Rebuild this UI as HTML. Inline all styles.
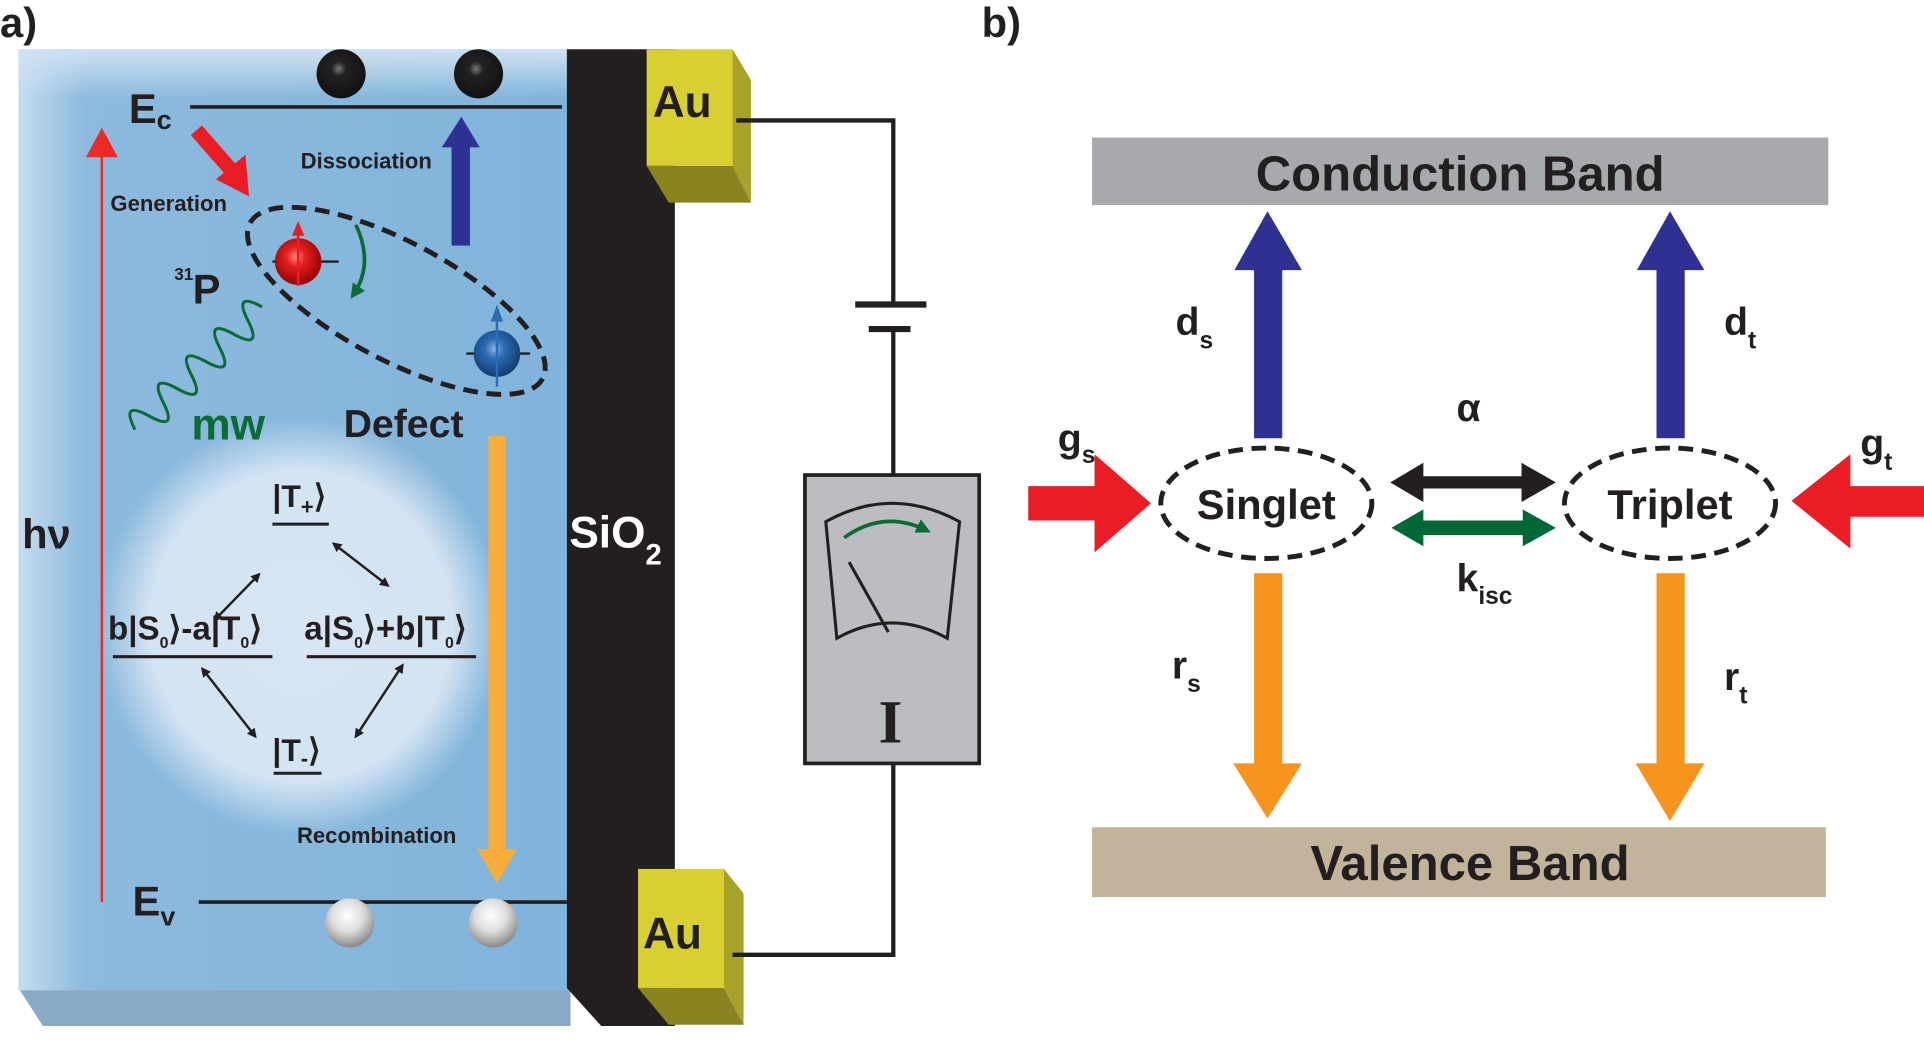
<!DOCTYPE html>
<html><head><meta charset="utf-8">
<style>
html,body{margin:0;padding:0;background:#fff;}
svg{display:block;}
text{font-family:"Liberation Sans",sans-serif;font-weight:bold;fill:#231f20;}
</style></head>
<body>
<svg width="1924" height="1063" viewBox="0 0 1568 866" xmlns="http://www.w3.org/2000/svg">
<defs>
<linearGradient id="slab" x1="0" y1="0" x2="1" y2="0">
<stop offset="0" stop-color="#c6dcef"/><stop offset="0.12" stop-color="#8dbade"/><stop offset="1" stop-color="#80b4da"/>
</linearGradient>
<linearGradient id="slabtop" x1="0" y1="0" x2="0" y2="1">
<stop offset="0" stop-color="#cfe2f2"/><stop offset="1" stop-color="#cfe2f2" stop-opacity="0"/>
</linearGradient>
<radialGradient id="glow" cx="0.5" cy="0.5" r="0.5">
<stop offset="0" stop-color="#d7e6f3"/><stop offset="0.75" stop-color="#d2e3f2"/><stop offset="1" stop-color="#d2e3f2" stop-opacity="0"/>
</radialGradient>
<radialGradient id="blk" cx="0.45" cy="0.4" r="0.6"><stop offset="0" stop-color="#777"/><stop offset="0.25" stop-color="#222"/><stop offset="1" stop-color="#111"/></radialGradient>
<radialGradient id="wht" cx="0.45" cy="0.35" r="0.65"><stop offset="0" stop-color="#fff"/><stop offset="0.5" stop-color="#ddd"/><stop offset="1" stop-color="#888"/></radialGradient>
<radialGradient id="red" cx="0.45" cy="0.4" r="0.6"><stop offset="0" stop-color="#ff8080"/><stop offset="0.35" stop-color="#e02020"/><stop offset="1" stop-color="#900"/></radialGradient>
<radialGradient id="blu" cx="0.45" cy="0.4" r="0.6"><stop offset="0" stop-color="#8ab4e6"/><stop offset="0.35" stop-color="#2a6db4"/><stop offset="1" stop-color="#123a70"/></radialGradient>
<marker id="ah" markerWidth="8" markerHeight="8" refX="6" refY="4" orient="auto-start-reverse" markerUnits="userSpaceOnUse"><path d="M0,0 L8,4 L0,8 Z" fill="#231f20"/></marker>
<marker id="gh" markerWidth="12" markerHeight="12" refX="8" refY="6" orient="auto" markerUnits="userSpaceOnUse"><path d="M0,0 L12,6 L0,12 Z" fill="#0a6b34"/></marker>
</defs>

<text x="0" y="30" font-size="34">a)</text>
<text x="800" y="30" font-size="34">b)</text>

<polygon points="15,805 465,805 465,836 35,836" fill="#8aa9c4"/>
<rect x="15" y="40" width="450" height="767" fill="url(#slab)"/>
<rect x="15" y="40" width="450" height="40" fill="url(#slabtop)"/>
<ellipse cx="245" cy="510" rx="165" ry="170" fill="url(#glow)"/>
<polygon points="462,40 550,40 550,836 490,836 462,805" fill="#231f20"/>
<text x="464" y="446" font-size="36" style="fill:#fff">SiO<tspan font-size="24" dy="14" style="fill:#fff">2</tspan></text>

<polygon points="597,40 612,65 612,165 597,135" fill="#a9a22a"/>
<polygon points="527,135 597,135 612,165 545,165" fill="#8a8420"/>
<rect x="527" y="40" width="70" height="95" fill="#d8cf30"/>
<text x="532" y="95" font-size="36">Au</text>
<polygon points="590,708 606,728 606,835 590,805" fill="#a9a22a"/>
<polygon points="520,805 590,805 606,835 545,835" fill="#8a8420"/>
<rect x="520" y="708" width="70" height="97" fill="#d8cf30"/>
<text x="524" y="773" font-size="36">Au</text>

<polyline points="600,98 728,98 728,248" fill="none" stroke="#231f20" stroke-width="3.5"/>
<line x1="697" y1="248" x2="755" y2="248" stroke="#231f20" stroke-width="5"/>
<line x1="708" y1="268" x2="742" y2="268" stroke="#231f20" stroke-width="5"/>
<line x1="728" y1="268" x2="728" y2="387" stroke="#231f20" stroke-width="3.5"/>
<polyline points="728,622 728,778 597,778" fill="none" stroke="#231f20" stroke-width="3.5"/>
<rect x="656" y="387" width="142" height="235" fill="#bcbdc0" stroke="#231f20" stroke-width="3"/>
<path d="M673,425 Q727,395 782,425 L772,520 Q727,495 682,520 Z" fill="none" stroke="#231f20" stroke-width="2.5"/>
<path d="M688,438 Q720,415 755,432" fill="none" stroke="#0a6b34" stroke-width="3" marker-end="url(#gh)"/>
<line x1="692" y1="458" x2="724" y2="515" stroke="#231f20" stroke-width="2.5"/>
<text x="716" y="605" font-size="50" style="font-family:'Liberation Serif',serif">I</text>

<line x1="155" y1="87" x2="458" y2="87" stroke="#231f20" stroke-width="3"/>
<line x1="162" y1="735" x2="462" y2="735" stroke="#231f20" stroke-width="3"/>
<text x="105" y="100" font-size="34">E<tspan font-size="22" dy="5">c</tspan></text>
<text x="108" y="746" font-size="34">E<tspan font-size="22" dy="8">v</tspan></text>
<circle cx="278" cy="60" r="20" fill="url(#blk)"/>
<circle cx="390" cy="60" r="20" fill="url(#blk)"/>
<circle cx="285" cy="752" r="20" fill="url(#wht)"/>
<circle cx="402" cy="752" r="20" fill="url(#wht)"/>

<line x1="83" y1="735" x2="83" y2="125" stroke="#ee2a24" stroke-width="2"/>
<polygon points="70,128 96,128 83,104" fill="#ee2a24"/>
<text x="18" y="447" font-size="34">hν</text>

<line x1="160" y1="106" x2="188" y2="138" stroke="#ec1c24" stroke-width="12"/>
<polygon points="176,146 200,126 203,160" fill="#ec1c24"/>
<text x="90" y="172" font-size="18">Generation</text>
<rect x="368" y="118" width="15" height="82" fill="#2e3192"/>
<polygon points="360,120 391,120 376,95" fill="#2e3192"/>
<text x="245" y="137" font-size="18">Dissociation</text>

<ellipse cx="323" cy="245" rx="135" ry="48" transform="rotate(28 323 245)" fill="none" stroke="#231f20" stroke-width="4" stroke-dasharray="12,7"/>
<line x1="222" y1="213" x2="276" y2="213" stroke="#231f20" stroke-width="2"/>
<circle cx="243" cy="213" r="19" fill="url(#red)"/>
<line x1="243" y1="233" x2="243" y2="190" stroke="#ec1c24" stroke-width="2"/>
<polygon points="238,192 248,192 243,180" fill="#ec1c24"/>
<line x1="380" y1="288" x2="432" y2="288" stroke="#231f20" stroke-width="2"/>
<circle cx="405" cy="288" r="19" fill="url(#blu)"/>
<line x1="405" y1="315" x2="405" y2="260" stroke="#2a6db4" stroke-width="2"/>
<polygon points="400,262 410,262 405,248" fill="#2a6db4"/>
<path d="M290,183 Q305,215 288,240" fill="none" stroke="#0a6b34" stroke-width="3" marker-end="url(#gh)"/>
<text x="157" y="247" font-size="34">P</text>
<text x="142" y="228" font-size="14">31</text>
<g transform="translate(110,350) rotate(-44)">
<path d="M0,0 q8,-26 16,0 t16,0 t16,0 t16,0 t16,0 t16,0 t16,0 t16,0 t16,0" fill="none" stroke="#0a6b34" stroke-width="2.5"/>
</g>
<text x="156" y="358" font-size="36" style="fill:#0a6b34">mw</text>
<text x="280" y="356" font-size="32">Defect</text>

<rect x="398" y="355" width="14" height="340" fill="#f9ad3b"/>
<polygon points="389,692 421,692 405,720" fill="#f9ad3b"/>
<text x="242" y="687" font-size="18">Recombination</text>

<text x="222" y="413" font-size="26">|T<tspan font-size="18" dy="6">+</tspan><tspan dy="-6">⟩</tspan></text>
<line x1="222" y1="427" x2="268" y2="427" stroke="#231f20" stroke-width="2.5"/>
<text x="88" y="521" font-size="27">b|S<tspan font-size="13" dy="7">0</tspan><tspan dy="-7">⟩-a|T</tspan><tspan font-size="13" dy="7">0</tspan><tspan dy="-7">⟩</tspan></text>
<line x1="92" y1="535" x2="222" y2="535" stroke="#231f20" stroke-width="2.5"/>
<text x="248" y="521" font-size="27">a|S<tspan font-size="13" dy="7">0</tspan><tspan dy="-7">⟩+b|T</tspan><tspan font-size="13" dy="7">0</tspan><tspan dy="-7">⟩</tspan></text>
<line x1="250" y1="535" x2="388" y2="535" stroke="#231f20" stroke-width="2.5"/>
<text x="222" y="620" font-size="26">|T<tspan font-size="18" dy="4">-</tspan><tspan dy="-4">⟩</tspan></text>
<line x1="223" y1="630" x2="262" y2="630" stroke="#231f20" stroke-width="2.5"/>
<g stroke="#231f20" stroke-width="2">
<line x1="211" y1="468" x2="175" y2="505" marker-start="url(#ah)" marker-end="url(#ah)"/>
<line x1="272" y1="443" x2="316" y2="477" marker-start="url(#ah)" marker-end="url(#ah)"/>
<line x1="165" y1="545" x2="208" y2="600" marker-start="url(#ah)" marker-end="url(#ah)"/>
<line x1="328" y1="542" x2="290" y2="600" marker-start="url(#ah)" marker-end="url(#ah)"/>
</g>

<rect x="890" y="112" width="600" height="55" fill="#a7a9ac"/>
<text x="1190" y="155" font-size="40" text-anchor="middle">Conduction Band</text>
<rect x="890" y="674" width="598" height="57" fill="#c2b49a"/>
<text x="1198" y="717" font-size="40" text-anchor="middle">Valence Band</text>

<rect x="1022" y="218" width="23" height="139" fill="#2e3192"/>
<polygon points="1006,220 1061,220 1033,172" fill="#2e3192"/>
<rect x="1350" y="218" width="23" height="139" fill="#2e3192"/>
<polygon points="1334,220 1389,220 1361,172" fill="#2e3192"/>
<rect x="1022" y="467" width="23" height="157" fill="#f7941d"/>
<polygon points="1005,622 1061,622 1033,667" fill="#f7941d"/>
<rect x="1350" y="467" width="23" height="157" fill="#f7941d"/>
<polygon points="1333,622 1389,622 1361,669" fill="#f7941d"/>

<ellipse cx="1032" cy="410" rx="86" ry="45" fill="#fff" stroke="#231f20" stroke-width="4" stroke-dasharray="12,7"/>
<ellipse cx="1361" cy="410" rx="86" ry="45" fill="#fff" stroke="#231f20" stroke-width="4" stroke-dasharray="12,7"/>
<text x="1032" y="423" font-size="34" text-anchor="middle">Singlet</text>
<text x="1361" y="423" font-size="34" text-anchor="middle">Triplet</text>

<polygon points="1133,393 1160,377 1160,388 1240,388 1240,377 1268,393 1240,409 1240,398 1160,398 1160,409" fill="#231f20"/>
<polygon points="1134,430 1160,415 1160,424 1241,424 1241,415 1268,430 1241,445 1241,436 1160,436 1160,445" fill="#006837"/>

<polygon points="838,396 892,396 892,370 938,410 892,450 892,424 838,424" fill="#ec1c24"/>
<polygon points="1568,396 1508,396 1508,370 1460,408 1508,447 1508,421 1568,421" fill="#ec1c24"/>

<text x="862" y="368" font-size="32">g<tspan font-size="20" dy="9">s</tspan></text>
<text x="958" y="273" font-size="32">d<tspan font-size="20" dy="11">s</tspan></text>
<text x="1187" y="343" font-size="32">α</text>
<text x="1187" y="482" font-size="32">k<tspan font-size="20" dy="10">isc</tspan></text>
<text x="955" y="553" font-size="32">r<tspan font-size="20" dy="11">s</tspan></text>
<text x="1405" y="273" font-size="32">d<tspan font-size="20" dy="11">t</tspan></text>
<text x="1516" y="372" font-size="32">g<tspan font-size="20" dy="11">t</tspan></text>
<text x="1405" y="562" font-size="32">r<tspan font-size="20" dy="11">t</tspan></text>
</svg>
</body></html>
